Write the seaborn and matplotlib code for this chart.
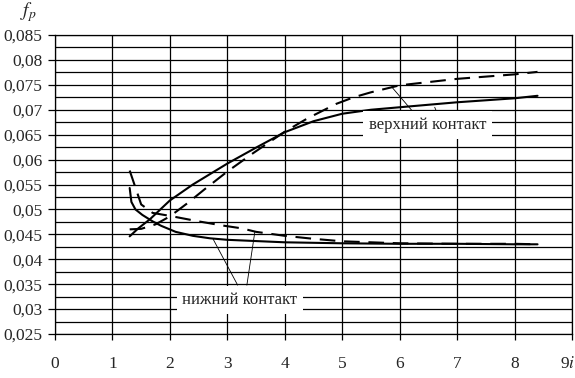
import matplotlib
matplotlib.use("Agg")
import matplotlib.pyplot as plt
import matplotlib.transforms as mtransforms
import numpy as np
import pandas as pd
import seaborn as sns

# curves (i vs f_p)
upper_solid_x = [1.3, 1.45, 1.65, 2.0, 2.4, 3.0, 3.5, 4.0, 4.5, 5.0, 5.5, 6.0, 7.0, 8.0, 8.4]
upper_solid_y = [0.0446, 0.0462, 0.0480, 0.0518, 0.0550, 0.0592, 0.0624, 0.0655, 0.0677,
                 0.0692, 0.0700, 0.0705, 0.0715, 0.0723, 0.0728]

upper_dash_x = [1.3, 1.5, 1.75, 2.0, 2.3, 2.6, 3.0, 3.45, 4.0, 4.4, 4.9, 5.2, 5.5, 6.0, 7.0, 8.0, 8.4]
upper_dash_y = [0.0460, 0.0461, 0.0470, 0.0486, 0.0512, 0.0540, 0.0576, 0.0613, 0.0656, 0.0683,
                0.0712, 0.0725, 0.0735, 0.0749, 0.0762, 0.0771, 0.0776]

lower_solid_x = [1.3, 1.33, 1.4, 1.52, 1.7, 1.85, 2.1, 2.4, 2.7, 3.0, 4.0, 5.0, 6.0, 7.0, 8.0, 8.4]
lower_solid_y = [0.0543, 0.0515, 0.0500, 0.0489, 0.0476, 0.0467, 0.0455, 0.0447, 0.0442,
                 0.0439, 0.0434, 0.0432, 0.0431, 0.0431, 0.0430, 0.0430]

lower_dash_x = [1.3, 1.5, 1.7, 2.0, 2.5, 2.9, 3.25, 3.5, 4.0, 4.5, 5.0, 5.5, 6.0, 7.0, 8.0, 8.4]
lower_dash_y = [0.0578, 0.0510, 0.0493, 0.0487, 0.0476, 0.0468, 0.0462, 0.0455, 0.0447,
                0.0441, 0.0436, 0.0434, 0.0432, 0.0431, 0.0431, 0.0430]

x_ticks = [0, 1, 2, 3, 4, 5, 6, 7, 8, 9]
x_labels = ["0", "1", "2", "3", "4", "5", "6", "7", "8", r"9$i$"]
y_ticks = [0.025, 0.03, 0.035, 0.04, 0.045, 0.05, 0.055, 0.06, 0.065, 0.07, 0.075, 0.08, 0.085]
y_labels = ["0,025", "0,03", "0,035", "0,04", "0,045", "0,05", "0,055", "0,06",
            "0,065", "0,07", "0,075", "0,08", "0,085"]

sns.set_theme(style="white")
plt.rcParams["font.family"] = ["Liberation Serif", "DejaVu Serif"]
plt.rcParams["mathtext.fontset"] = "stix"

fig = plt.figure(figsize=(5.75, 3.78), dpi=100)
ax = fig.add_axes([55 / 575, 1 - 334 / 378, 517 / 575, 299 / 378])

dash = (0, (7.5, 4.2))
for xs, ys, ls in [(upper_solid_x, upper_solid_y, "-"),
                   (upper_dash_x, upper_dash_y, dash),
                   (lower_solid_x, lower_solid_y, "-"),
                   (lower_dash_x, lower_dash_y, dash)]:
    df = pd.DataFrame({"i": xs, "fp": ys})
    sns.lineplot(data=df, x="i", y="fp", ax=ax, color="black", lw=1.5,
                 linestyle=ls, estimator=None, sort=False, zorder=3)

ax.set_xlim(0, 9)
ax.set_ylim(0.025, 0.085)
ax.set_xticks(x_ticks)
ax.set_xticklabels(x_labels)
ax.set_yticks(y_ticks)
ax.set_yticklabels(y_labels)
ax.set_yticks(np.arange(0.0275, 0.085, 0.005), minor=True)
ax.set_xlabel("")
ax.set_ylabel("")

ax.grid(True, which="major", axis="both", color="black", lw=0.9)
ax.grid(True, which="minor", axis="y", color="black", lw=0.9)
ax.set_axisbelow(True)
for s in ax.spines.values():
    s.set_color("black")
    s.set_linewidth(0.9)
    s.set_visible(True)

ax.tick_params(axis="y", which="major", direction="out", length=5, width=0.9,
               color="black", left=True, labelsize=12.5, pad=4)
ax.tick_params(axis="y", which="minor", length=0)
ax.tick_params(axis="x", which="major", direction="out", length=4.5, width=0.9,
               color="black", bottom=True, labelsize=12.5, pad=11)

# last x label "9i" sits flush against the right edge
last = ax.get_xticklabels()[-1]
last.set_ha("right")
last.set_transform(last.get_transform() + mtransforms.ScaledTranslation(3 / 100, 0, fig.dpi_scale_trans))

fig.text(28 / 575, 1 - 12 / 378, r"$f_p$", fontsize=14, ha="center", va="center")

leader = dict(arrowstyle="-", color="black", lw=0.6, shrinkA=0, shrinkB=0)
box = dict(boxstyle="square,pad=0.35", fc="white", ec="none")

ax.text(6.49, 0.0669, "верхний контакт", fontsize=12, ha="center", va="center",
        bbox=box, zorder=5)
ax.annotate("", xy=(5.86, 0.0746), xytext=(6.35, 0.0680), arrowprops=leader, zorder=4)
ax.annotate("", xy=(6.61, 0.0705), xytext=(6.70, 0.0680), arrowprops=leader, zorder=4)

ax.text(3.22, 0.0318, "нижний контакт", fontsize=12, ha="center", va="center",
        bbox=box, zorder=5)
ax.annotate("", xy=(2.75, 0.0441), xytext=(3.18, 0.0348), arrowprops=leader, zorder=4)
ax.annotate("", xy=(3.48, 0.0456), xytext=(3.34, 0.0348), arrowprops=leader, zorder=4)

fig.savefig("out.png", dpi=100)
